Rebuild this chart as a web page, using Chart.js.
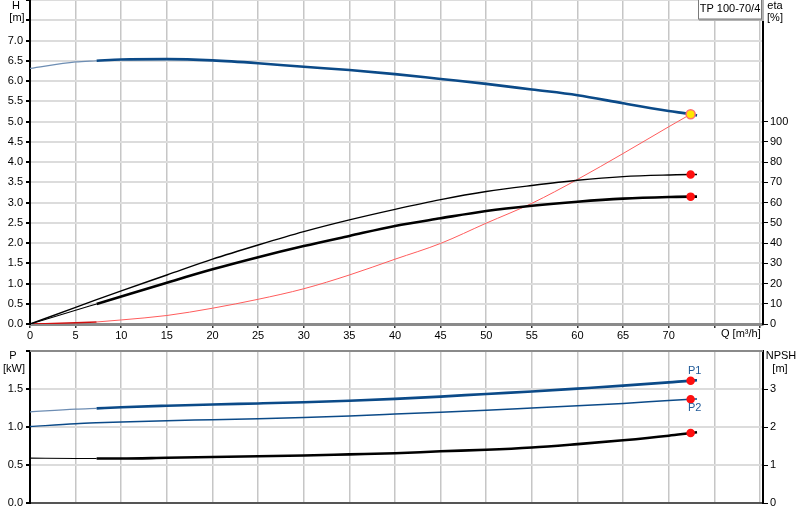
<!DOCTYPE html>
<html>
<head>
<meta charset="utf-8">
<title>TP 100-70/4</title>
<script src="https://cdn.jsdelivr.net/npm/chart.js@4.4.1/dist/chart.umd.min.js"></script>
<style>
  body { margin: 0; background: #fff; width: 800px; height: 520px; overflow: hidden; position: relative; }
  canvas { position: absolute; left: 0; }
  #headChart { top: 0; }
  #powerChart { top: 345px; }
</style>
</head>
<body>
<canvas id="headChart" width="800" height="348"></canvas>
<canvas id="powerChart" width="800" height="175"></canvas>
<script>
'use strict';

// flow points shared by all curves [m³/h]
let flowQ = [0, 5, 7.3, 10, 15, 20, 25, 30, 35, 40, 45, 50, 55, 60, 65, 70, 72.4, 73.1];
// pump head [m]
let headH = [6.31, 6.47, 6.5, 6.53, 6.54, 6.51, 6.44, 6.35, 6.27, 6.17, 6.05, 5.93, 5.79, 5.65, 5.45, 5.26, 5.18, 5.15];
// efficiency curves [%]
let etaUpper = [0, 8.2, 12.0, 16.4, 24.2, 32.0, 39.0, 45.6, 51.4, 56.6, 61.4, 65.4, 68.4, 71.0, 72.8, 73.6, 73.8, 73.8];
let etaLower = [0, 6.8, 9.9, 13.6, 20.4, 27.0, 33.0, 38.5, 43.5, 48.4, 52.2, 55.8, 58.4, 60.4, 61.9, 62.7, 62.9, 62.9];
// system curve [m], ends at the duty point
let systemH = [0, 0.03, 0.05, 0.1, 0.21, 0.39, 0.61, 0.87, 1.21, 1.6, 1.99, 2.49, 2.98, 3.57, 4.21, 4.87, 5.18];
// power input [kW]
let powerP1 = [1.2, 1.235, 1.245, 1.26, 1.28, 1.297, 1.31, 1.325, 1.345, 1.37, 1.4, 1.435, 1.467, 1.505, 1.544, 1.587, 1.61, 1.615];
let powerP2 = [1.005, 1.043, 1.055, 1.066, 1.083, 1.096, 1.11, 1.126, 1.146, 1.17, 1.195, 1.222, 1.25, 1.278, 1.31, 1.349, 1.366, 1.37];
// npsh [m]
let npshValues = [1.18, 1.17, 1.17, 1.17, 1.19, 1.21, 1.23, 1.25, 1.28, 1.31, 1.36, 1.4, 1.46, 1.55, 1.65, 1.77, 1.84, 1.86];

// tick labels that are printed
let qLabels = [0, 5, 10, 15, 20, 25, 30, 35, 40, 45, 50, 55, 60, 65, 70];
let hLabels = [0, 0.5, 1, 1.5, 2, 2.5, 3, 3.5, 4, 4.5, 5, 5.5, 6, 6.5, 7];
let etaLabels = [0, 10, 20, 30, 40, 50, 60, 70, 80, 90, 100];
let pLabels = [0, 0.5, 1, 1.5];
let npshLabels = [0, 1, 2, 3];

let thinEnd = flowQ.indexOf(7.3);
let dutyIndex = flowQ.indexOf(72.4);
let navy = '#0b4a88';
let font = { family: '"Liberation Sans", Arial, sans-serif', size: 11 };

// build {x, y} points of a curve between two indexes
function curve(values, from, to) {
  let pts = [];
  for (let i = from; i <= to && i < values.length; i++) {
    pts.push({ x: flowQ[i], y: values[i] });
  }
  return pts;
}

function lineSet(data, axis, color, width) {
  return {
    data: data,
    yAxisID: axis,
    borderColor: color,
    borderWidth: width,
    pointRadius: 0,
    cubicInterpolationMode: 'monotone',
    fill: false
  };
}

function markerSet(data, axis, fillColor, edgeColor, radius) {
  return {
    data: data,
    yAxisID: axis,
    showLine: false,
    pointRadius: radius,
    pointBackgroundColor: fillColor,
    pointBorderColor: edgeColor,
    pointBorderWidth: 1.5
  };
}

function qAxis(showLabels, height) {
  return {
    type: 'linear',
    min: 0,
    max: 80.33,
    ticks: {
      stepSize: 5,
      includeBounds: false,
      autoSkip: false,
      maxRotation: 0,
      display: showLabels,
      padding: 1,
      color: '#000',
      font: font,
      callback: (v) => qLabels.includes(v) ? String(v) : ''
    },
    grid: { color: '#c6c6c6', lineWidth: 1.5, tickLength: 4, tickColor: '#333', drawTicks: showLabels },
    border: { color: showLabels ? '#8a8a8a' : '#555', width: showLabels ? 3 : 2 },
    afterFit: (axis) => {
      axis.height = height;
      axis.paddingLeft = 0;
      axis.paddingRight = 0;
    }
  };
}

function leftAxis(max, step, labels, digits) {
  return {
    position: 'left',
    min: 0,
    max: max,
    ticks: {
      stepSize: step,
      padding: 3,
      color: '#000',
      font: font,
      callback: (v) => labels.includes(v) ? v.toFixed(digits) : ''
    },
    grid: { color: '#dcdcdc', lineWidth: 2, tickLength: 4, tickColor: '#000' },
    border: { color: '#000', width: 2 },
    afterFit: (axis) => {
      axis.width = 30;
      axis.paddingTop = 0;
      axis.paddingBottom = 0;
    }
  };
}

function rightAxis(max, step, labels) {
  return {
    position: 'right',
    min: 0,
    max: max,
    ticks: { stepSize: step, padding: 2, color: '#000', font: font },
    afterBuildTicks: (axis) => { axis.ticks = axis.ticks.filter(t => labels.includes(t.value)); },
    grid: { drawOnChartArea: false, tickLength: 5, tickColor: '#000' },
    border: { color: '#000', width: 2 },
    afterFit: (axis) => {
      axis.width = 37;
      axis.paddingTop = 0;
      axis.paddingBottom = 0;
    }
  };
}

// draws axis captions, the legend box and point names
let captions = {
  id: 'captions',
  afterDraw(chart, args, opts) {
    let c = chart.ctx;
    c.save();
    if (opts.box) {
      c.fillStyle = '#fff';
      c.fillRect(698, -1, 64, 20);
      c.strokeStyle = '#b4b4b4';
      c.lineWidth = 2;
      c.beginPath();
      c.moveTo(763, 0);
      c.lineTo(763, 20);
      c.lineTo(699, 20);
      c.stroke();
      c.strokeStyle = '#7a7a7a';
      c.lineWidth = 1;
      c.strokeRect(698.5, -1, 63, 20);
    }
    if (opts.topLine) {
      c.strokeStyle = '#8a8a8a';
      c.lineWidth = 2;
      c.beginPath();
      c.moveTo(chart.chartArea.left, chart.chartArea.top);
      c.lineTo(chart.chartArea.right, chart.chartArea.top);
      c.stroke();
    }
    c.font = '11px "Liberation Sans", Arial, sans-serif';
    c.textBaseline = 'middle';
    opts.labels.forEach(l => {
      c.textAlign = l.align || 'center';
      c.fillStyle = l.color || '#000';
      let x = l.x;
      let y = l.y;
      if (l.axis) {
        x = chart.scales.x.getPixelForValue(flowQ[dutyIndex]) + l.dx;
        y = chart.scales[l.axis].getPixelForValue(l.value) + l.dy;
      }
      c.fillText(l.text, x, y);
    });
    c.restore();
  }
};

let headCtx = document.getElementById('headChart').getContext('2d');
let headChart = new Chart(headCtx, {
  type: 'line',
  data: {
    datasets: [
      markerSet([{ x: flowQ[dutyIndex], y: headH[dutyIndex] }], 'yH', '#ffe600', '#ff7070', 4.5),
      markerSet([{ x: flowQ[dutyIndex], y: etaUpper[dutyIndex] }, { x: flowQ[dutyIndex], y: etaLower[dutyIndex] }], 'yEta', '#ff1010', '#ff1010', 3.5),
      lineSet(curve(headH, thinEnd, flowQ.length - 1), 'yH', navy, 2.6),
      lineSet(curve(headH, 0, thinEnd), 'yH', '#6d8db3', 1.2),
      lineSet(curve(etaUpper, 0, flowQ.length - 1), 'yEta', '#000', 1.4),
      lineSet(curve(etaLower, thinEnd, flowQ.length - 1), 'yEta', '#000', 2.6),
      lineSet(curve(etaLower, 0, thinEnd), 'yEta', '#000', 1.1),
      lineSet(curve(systemH, 0, thinEnd), 'yH', '#d01010', 1.4),
      lineSet(curve(systemH, thinEnd, dutyIndex), 'yH', '#ff5c5c', 1)
    ]
  },
  options: {
    responsive: false,
    animation: false,
    layout: { padding: 0, autoPadding: false },
    plugins: {
      legend: { display: false },
      tooltip: { enabled: false },
      captions: {
        box: true,
        labels: [
          { text: 'H', x: 16, y: 6 },
          { text: '[m]', x: 17, y: 18 },
          { text: 'eta', x: 775, y: 6 },
          { text: '[%]', x: 775, y: 18 },
          { text: 'Q [m³/h]', x: 721, y: 334, align: 'left' },
          { text: 'TP 100-70/4', x: 730, y: 9 }
        ]
      }
    },
    scales: {
      x: qAxis(true, 24),
      yH: leftAxis(8, 0.5, hLabels, 1),
      yEta: rightAxis(160, 10, etaLabels)
    }
  },
  plugins: [captions]
});

let powerCtx = document.getElementById('powerChart').getContext('2d');
let powerChart = new Chart(powerCtx, {
  type: 'line',
  data: {
    datasets: [
      markerSet([{ x: flowQ[dutyIndex], y: powerP1[dutyIndex] }, { x: flowQ[dutyIndex], y: powerP2[dutyIndex] }], 'yP', '#ff1010', '#ff1010', 3.5),
      markerSet([{ x: flowQ[dutyIndex], y: npshValues[dutyIndex] }], 'yNpsh', '#ff1010', '#ff1010', 3.5),
      lineSet(curve(powerP1, thinEnd, flowQ.length - 1), 'yP', navy, 2.6),
      lineSet(curve(powerP1, 0, thinEnd), 'yP', '#6d8db3', 1.2),
      lineSet(curve(powerP2, 0, flowQ.length - 1), 'yP', navy, 1.5),
      lineSet(curve(npshValues, thinEnd, flowQ.length - 1), 'yNpsh', '#000', 2.6),
      lineSet(curve(npshValues, 0, thinEnd), 'yNpsh', '#000', 1.1)
    ]
  },
  options: {
    responsive: false,
    animation: false,
    layout: { padding: { top: 6 }, autoPadding: false },
    plugins: {
      legend: { display: false },
      tooltip: { enabled: false },
      captions: {
        topLine: true,
        labels: [
          { text: 'P', x: 13, y: 11 },
          { text: '[kW]', x: 14, y: 24 },
          { text: 'NPSH', x: 781, y: 11 },
          { text: '[m]', x: 780, y: 24 },
          { text: 'P1', axis: 'yP', value: powerP1[dutyIndex], dx: 4, dy: -10, color: '#1f5a99' },
          { text: 'P2', axis: 'yP', value: powerP2[dutyIndex], dx: 4, dy: 9, color: '#1f5a99' }
        ]
      }
    },
    scales: {
      x: qAxis(false, 17),
      yP: leftAxis(2, 0.5, pLabels, 1),
      yNpsh: rightAxis(4, 1, npshLabels)
    }
  },
  plugins: [captions]
});
</script>
</body>
</html>
